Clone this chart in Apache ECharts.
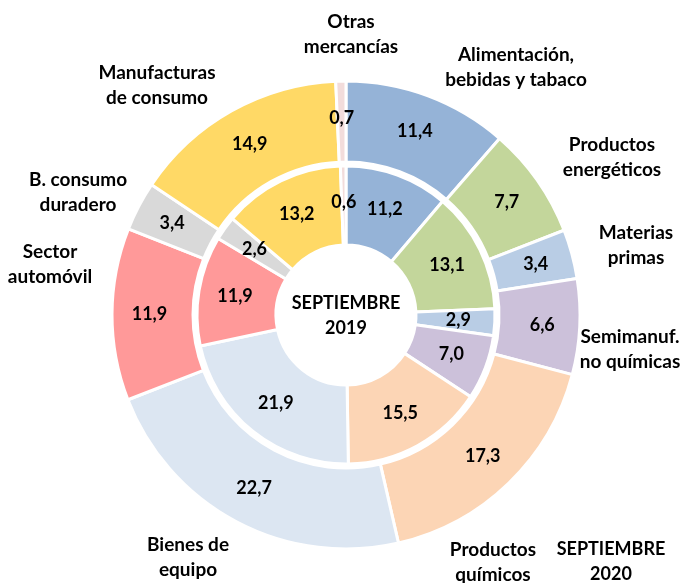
<!DOCTYPE html>
<html>
<head>
<meta charset="utf-8">
<script src="https://cdn.jsdelivr.net/npm/echarts@6/dist/echarts.min.js"></script>
<style>
  html, body { margin: 0; padding: 0; background: #fff; }
  #main { width: 686px; height: 583px; }
</style>
</head>
<body>
<div id="main"></div>
<script>
// categorías (orden horario desde arriba)
const categories = [
  'Alimentación,\nbebidas y tabaco',
  'Productos\nenergéticos',
  'Materias\nprimas',
  'Semimanuf.\nno químicas',
  'Productos\nquímicos',
  'Bienes de\nequipo',
  'Sector\nautomóvil',
  'B. consumo\nduradero',
  'Manufacturas\nde consumo',
  'Otras\nmercancías'
];
const values2019 = [11.2, 13.1, 2.9, 7.0, 15.5, 21.9, 11.9, 2.6, 13.2, 0.6];
const values2020 = [11.4, 7.7, 3.4, 6.6, 17.3, 22.7, 11.9, 3.4, 14.9, 0.7];
const colors = ['#95B3D7', '#C3D69B', '#B9CDE5', '#CCC1DA', '#FCD5B5',
                '#DCE6F2', '#FF9999', '#D9D9D9', '#FFD966', '#F2DCDB'];

// posiciones de los rótulos de categoría
const namePos = [
  [516, 67], [612, 157], [636, 245], [630, 349], [493, 562],
  [188, 557], [50, 264], [78, 192], [157, 85], [351, 34]
];

const chart = echarts.init(document.getElementById('main'));
const font = 'Lato, "Open Sans", sans-serif';
const fmt = p => p.value.toFixed(1).replace('.', ',');

function ring(values, radius) {
  return {
    type: 'pie',
    radius: radius,
    center: [346, 315],
    startAngle: 90,
    clockwise: true,
    silent: true,
    animation: false,
    avoidLabelOverlap: false,
    itemStyle: { borderColor: '#fff', borderWidth: 3 },
    label: {
      show: true,
      position: 'inside',
      formatter: fmt,
      color: '#000',
      fontFamily: font,
      fontWeight: 'bold',
      fontSize: 18
    },
    labelLine: { show: false },
    data: values.map((v, i) => ({
      name: categories[i], value: v, itemStyle: { color: colors[i] }
    }))
  };
}

function txt(text, x, y, size) {
  return {
    type: 'text', x: x, y: y,
    style: {
      text: text,
      fill: '#000',
      font: 'bold ' + size + 'px ' + font,
      textAlign: 'center',
      textVerticalAlign: 'middle',
      lineHeight: 25
    }
  };
}

const graphics = categories.map((c, i) => txt(c, namePos[i][0], namePos[i][1], 19));
graphics.push(txt('SEPTIEMBRE\n2019', 346, 316, 18));
graphics.push(txt('SEPTIEMBRE\n2020', 611, 562, 18));

chart.setOption({
  backgroundColor: '#fff',
  series: [
    ring(values2019, [70, 149]),
    ring(values2020, [153, 234])
  ],
  graphic: graphics
});
</script>
</body>
</html>
